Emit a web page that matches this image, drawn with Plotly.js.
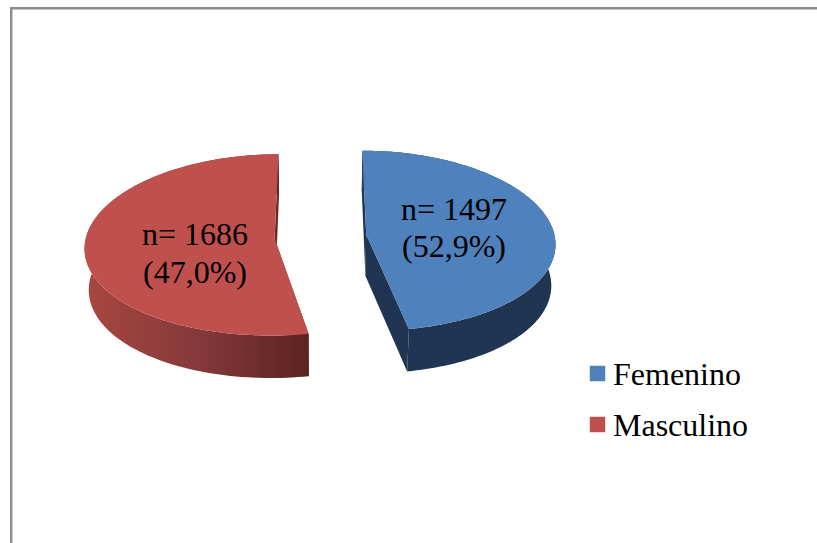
<!DOCTYPE html>
<html>
<head>
<meta charset="utf-8">
<script src="https://cdn.plot.ly/plotly-3.0.1.min.js"></script>
<style>html,body{margin:0;padding:0;background:#fff}#chart{width:817px;height:543px}</style>
</head>
<body>
<div id="chart"></div>
<script>
// Respondents by sex
const categories = ['Femenino', 'Masculino'];
const counts = [1497, 1686];
const labelFirstLines = ['n= 1497', 'n= 1686'];
const labelSecondLines = ['(52,9%)', '(47,0%)'];
const topColors = ['#4F81BD', '#C0504D'];
const sideScales = [
  [[0, '#2A4566'], [0.12, '#1F3552'], [1, '#1F3552']],
  [[0, '#A84740'], [0.5, '#85393A'], [1, '#5C2320']]
];
const wallColors = ['#1F3552', '#6E2C29'];

// Perspective view of a tilted disc
const view = {cx: 320.5, cy: 236.5, rx: 188.5, ry: 89.9, depth: 42, farX: 0.09, farY: 0.07, low: 0.018, pull: 0.244};
function project(X, Y, down) {
  const sx = 1 / (1 + view.farX * Y + view.low * down);
  const sy = 1 / (1 + view.farY * Y + view.low * down);
  return [view.cx + view.rx * X * sx, view.cy - view.ry * Y * sy + view.depth * down * sy];
}
const total = counts.reduce((a, b) => a + b, 0);

function sliceGeometry(i) {
  const before = counts.slice(0, i).reduce((a, b) => a + b, 0);
  const a0 = 2 * Math.PI * before / total;
  const a1 = 2 * Math.PI * (before + counts[i]) / total;
  const mid = (a0 + a1) / 2;
  const ox = view.pull * Math.sin(mid), oy = view.pull * Math.cos(mid);
  const rim = [];
  for (let k = 0; k <= 120; k++) {
    const a = a0 + (a1 - a0) * k / 120;
    rim.push([ox + Math.sin(a), oy + Math.cos(a)]);
  }
  return {rim, apex: [ox, oy]};
}
function poly(points, extra) {
  return Object.assign({
    type: 'scatter', mode: 'none', fill: 'toself', showlegend: false, hoverinfo: 'skip',
    x: points.map(p => p[0]), y: points.map(p => p[1])
  }, extra);
}

const traces = [];
categories.forEach((name, i) => {
  const g = sliceGeometry(i);
  const first = g.rim[0], last = g.rim[g.rim.length - 1];
  // Cut faces of the wedge
  [first, last].forEach(edge => {
    traces.push(poly([
      project(g.apex[0], g.apex[1], 0), project(edge[0], edge[1], 0),
      project(edge[0], edge[1], 1), project(g.apex[0], g.apex[1], 1)
    ], {fillcolor: wallColors[i]}));
  });
  // Outer rim band
  const upper = g.rim.map(p => project(p[0], p[1], 0));
  const lower = g.rim.map(p => project(p[0], p[1], 1)).reverse();
  traces.push(poly(upper.concat(lower), {
    fillgradient: {type: 'horizontal', colorscale: sideScales[i]}
  }));
  // Top face
  traces.push(poly([project(g.apex[0], g.apex[1], 0)].concat(upper), {fillcolor: topColors[i]}));
});

const serif = '"Liberation Serif", "Times New Roman", serif';
const annotations = [];

// Slice labels
const labelX = [453.5, 195];
const baseY = [[220, 257], [245, 283]];
categories.forEach((name, i) => {
  [labelFirstLines[i], labelSecondLines[i]].forEach((text, j) => {
    annotations.push({
      xref: 'x', yref: 'y', x: labelX[i], y: baseY[i][j] + 9, text, showarrow: false,
      xanchor: 'center', yanchor: 'bottom', font: {family: serif, size: 32, color: '#000'}
    });
  });
});

// Key: colour swatches with category names
const keySwatchX = 597.5;
const keyTextX = 611;
const keyRowY = [373.5, 424.5];
traces.push({
  type: 'scatter', mode: 'markers', hoverinfo: 'skip', showlegend: false,
  x: keyRowY.map(() => keySwatchX), y: keyRowY,
  marker: {symbol: 'square', size: 15.5, color: topColors}
});
categories.forEach((name, i) => {
  annotations.push({
    xref: 'x', yref: 'y', x: keyTextX, y: keyRowY[i], text: name, showarrow: false,
    xanchor: 'left', yanchor: 'middle',
    font: {family: serif, size: 32, color: '#000'}
  });
});

const layout = {
  width: 817, height: 543,
  margin: {l: 0, r: 0, t: 0, b: 0},
  paper_bgcolor: '#fff', plot_bgcolor: '#fff',
  xaxis: {range: [0, 817], visible: false, fixedrange: true},
  yaxis: {range: [543, 0], visible: false, fixedrange: true},
  showlegend: false,
  annotations,
  shapes: [{
    type: 'path', xref: 'x', yref: 'y', path: 'M 11.2,543 L 11.2,8.2 L 817,8.2',
    line: {color: '#8C8C8C', width: 2.4}
  }]
};
Plotly.newPlot('chart', traces, layout, {displayModeBar: false, staticPlot: true});
</script>
</body>
</html>
